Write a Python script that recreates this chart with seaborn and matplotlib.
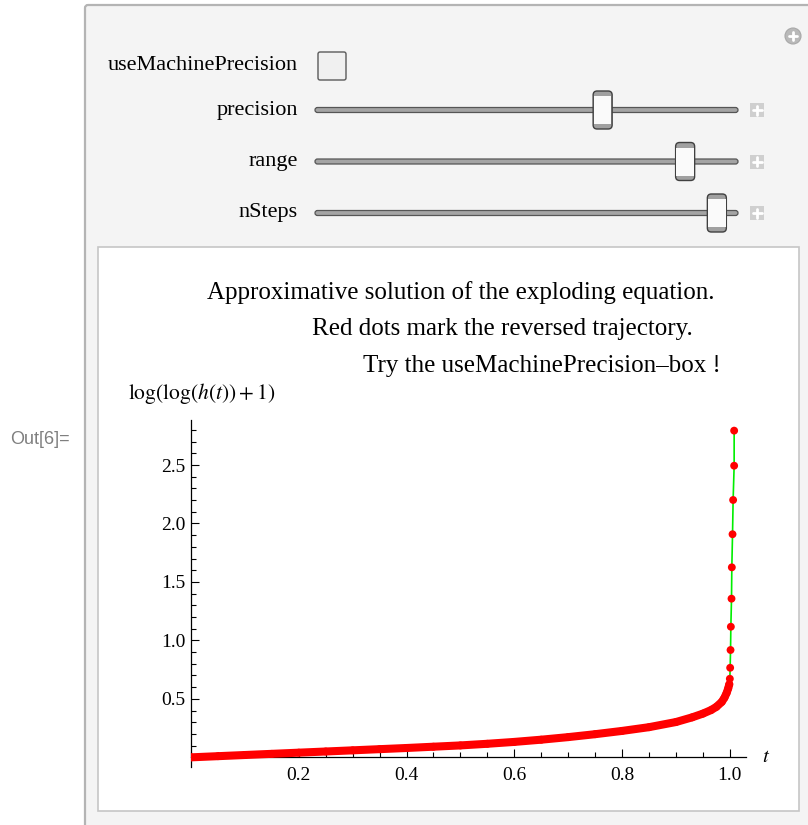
import matplotlib
matplotlib.use("Agg")
import matplotlib.pyplot as plt
import seaborn as sns
import pandas as pd
from matplotlib.patches import Rectangle, FancyBboxPatch, Circle
from matplotlib.ticker import MultipleLocator

# forward solution (dense part of the curve)
t_forward = [0.0, 0.05, 0.1, 0.15, 0.2, 0.25, 0.3, 0.35, 0.4, 0.45, 0.5, 0.55,
             0.6, 0.65, 0.7, 0.75, 0.8, 0.85, 0.9, 0.93, 0.95, 0.965, 0.975,
             0.985, 0.99, 0.994, 0.997, 0.999]
y_forward = [0.0, 0.01, 0.02, 0.03, 0.04, 0.05, 0.06, 0.07, 0.08, 0.091, 0.102,
             0.116, 0.132, 0.151, 0.173, 0.198, 0.226, 0.258, 0.302, 0.342,
             0.374, 0.404, 0.432, 0.474, 0.51, 0.55, 0.59, 0.625]
# reversed trajectory near the blow-up
t_reversed = [1.0, 1.0006, 1.0013, 1.0019, 1.0031, 1.0037, 1.005, 1.0061,
              1.008, 1.008]
y_reversed = [0.672, 0.766, 0.918, 1.117, 1.357, 1.625, 1.908, 2.201, 2.494,
              2.794]

x_ticks = [0.2, 0.4, 0.6, 0.8, 1.0]
y_ticks = [0.5, 1.0, 1.5, 2.0, 2.5]

title_lines = ["Approximative solution of the exploding equation.",
               "Red dots mark the reversed trajectory.",
               "Try the useMachinePrecision\u2013box !"]

controls = ["precision", "range", "nSteps"]
slider_pos = [0.68, 0.875, 0.95]

df_fwd = pd.DataFrame({"t": t_forward, "y": y_forward})
df_all = pd.DataFrame({"t": t_forward + t_reversed, "y": y_forward + y_reversed})

sns.set_theme(style="white")
plt.rcParams["font.family"] = ["Liberation Serif", "DejaVu Serif"]
plt.rcParams["mathtext.fontset"] = "stix"
plt.rcParams["text.color"] = "black"
plt.rcParams["xtick.labelcolor"] = "black"
plt.rcParams["ytick.labelcolor"] = "black"

W, H = 808, 825
fig = plt.figure(figsize=(W / 100, H / 100), dpi=100)

# background axes in pixel coordinates for the Manipulate panel
bg = fig.add_axes([0, 0, 1, 1], zorder=0)
bg.set_xlim(0, W)
bg.set_ylim(H, 0)
bg.axis("off")

bg.add_patch(FancyBboxPatch((85, 5), 740, 840, boxstyle="round,pad=0,rounding_size=3",
                            fc="#f4f4f4", ec="#b4b4b4", lw=1.6))
bg.add_patch(Rectangle((98, 247), 701, 564, fc="white", ec="#c6c6c6", lw=1.2))

bg.text(10, 440, "Out[6]=", fontsize=13, color="#7f7f7f", va="center", ha="left",
        family=["Liberation Sans", "DejaVu Sans"])

# circle plus icon
bg.add_patch(Circle((793, 36), 8, fc="#b9b9b9", ec="#a8a8a8", lw=0.8))
bg.plot([789, 797], [36, 36], color="white", lw=2)
bg.plot([793, 793], [32, 40], color="white", lw=2)

# checkbox row
bg.text(298, 66, "useMachinePrecision", fontsize=16, ha="right", va="center")
bg.add_patch(FancyBboxPatch((318, 52), 28, 28, boxstyle="round,pad=0,rounding_size=2",
                            fc="#f0f0f0", ec="#5a5a5a", lw=1))

# sliders
for i, name in enumerate(controls):
    cy = 110 + i * 51.5
    bg.text(298, cy, name, fontsize=16, ha="right", va="center")
    bg.add_patch(FancyBboxPatch((315, cy - 2.5), 423, 5,
                                boxstyle="round,pad=0,rounding_size=2.5",
                                fc="#a4a4a4", ec="#555555", lw=0.9))
    cx = 315 + slider_pos[i] * 423
    bg.add_patch(FancyBboxPatch((cx - 9.5, cy - 19), 19, 38,
                                boxstyle="round,pad=0,rounding_size=4",
                                fc="#a0a0a0", ec="#404040", lw=1))
    bg.add_patch(Rectangle((cx - 8.8, cy - 14), 17.6, 28, fc="#fafafa", ec="none"))
    bg.add_patch(Rectangle((757 - 7, cy - 7), 14, 14, fc="#cfcfcf", ec="none"))
    bg.plot([752.5, 761.5], [cy, cy], color="white", lw=2)
    bg.plot([757, 757], [cy - 4.5, cy + 4.5], color="white", lw=2)

# title lines
title_x = [461, 502, 542]
title_y = [293, 329, 366]
for txt, tx, ty in zip(title_lines, title_x, title_y):
    bg.text(tx, ty, txt, fontsize=18, ha="center", va="center")

# the plot itself
ax = fig.add_axes([191 / W, 1 - 766.7 / H, 555 / W, 346.7 / H], zorder=1)
ax.patch.set_alpha(0)

sns.lineplot(data=df_all, x="t", y="y", color="#00ee00", lw=1.2, sort=False,
             estimator=None, ax=ax, zorder=2)
sns.lineplot(data=df_fwd, x="t", y="y", color="red", lw=5.8, sort=False,
             estimator=None, ax=ax, zorder=3)
sns.scatterplot(data=df_all, x="t", y="y", color="red", s=32, edgecolor="none",
                ax=ax, zorder=4)

ax.set_xlim(0, 1.03)
ax.set_ylim(-0.08, 2.885)
ax.set_xticks(x_ticks)
ax.set_yticks(y_ticks)
ax.set_xticklabels([f"{v:.1f}" for v in x_ticks])
ax.set_yticklabels([f"{v:.1f}" for v in y_ticks])
ax.xaxis.set_minor_locator(MultipleLocator(0.05))
ax.yaxis.set_minor_locator(MultipleLocator(0.1))
ax.tick_params(which="both", direction="in", color="black", width=0.8,
               labelsize=14, labelcolor="black", bottom=True, left=True)
ax.tick_params(which="major", length=6)
ax.tick_params(which="minor", length=3.5)
ax.tick_params(axis="x", pad=7)
ax.tick_params(axis="y", pad=4)
ax.spines["top"].set_visible(False)
ax.spines["right"].set_visible(False)
ax.spines["bottom"].set_position(("data", 0))
for s in ["left", "bottom"]:
    ax.spines[s].set_color("black")
    ax.spines[s].set_linewidth(0.9)
ax.set_xlabel("")
ax.set_ylabel("")

bg.text(128, 393, r"$\mathrm{log}(\mathrm{log}(h(t))+1)$", fontsize=15.5,
        ha="left", va="center")
bg.text(766, 758, r"$t$", fontsize=15, ha="center", va="center")

fig.savefig("out.png", dpi=100)
